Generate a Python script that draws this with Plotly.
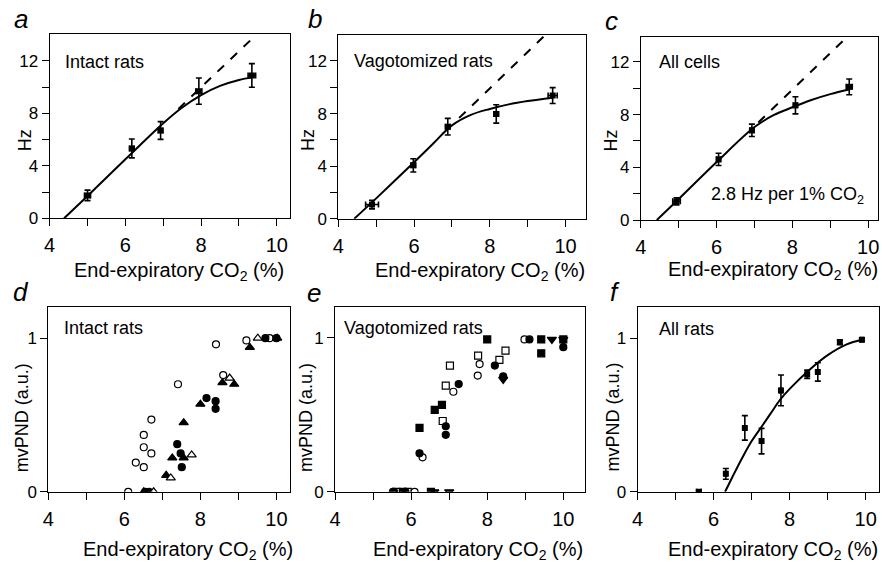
import plotly.graph_objects as go

W, H = 882, 562
FONT = "Arial, 'Liberation Sans', Helvetica, sans-serif"

# ---------------- data ----------------
# a: intact rats (Hz)
a_x = [5.0, 6.17, 6.93, 7.94, 9.34]
a_y = [1.75, 5.33, 6.7, 9.7, 10.9]
a_yerr = [0.4, 0.72, 0.68, 1.0, 0.9]
a_xerr = [0.08, 0.06, 0.06, 0.08, 0.1]
a_fit_x = [4.38, 5.0, 6.0, 7.0, 7.5, 8.0, 8.5, 9.0, 9.35]
a_fit_y = [0.0, 1.7, 4.5, 7.25, 8.45, 9.4, 10.1, 10.55, 10.75]
a_lin_x = [7.4, 9.31]
a_lin_y = [8.35, 13.6]

# b: vagotomized rats (Hz)
b_x = [4.89, 5.98, 6.89, 8.17, 9.66]
b_y = [1.08, 4.06, 7.0, 7.97, 9.37]
b_yerr = [0.33, 0.5, 0.63, 0.7, 0.6]
b_xerr = [0.17, 0.06, 0.06, 0.06, 0.12]
b_fit_x = [4.42, 5.0, 6.0, 6.5, 7.0, 7.5, 8.0, 8.5, 9.0, 9.66]
b_fit_y = [0.0, 1.55, 4.3, 5.7, 7.1, 7.9, 8.35, 8.7, 8.95, 9.2]
b_lin_x = [7.19, 9.42]
b_lin_y = [7.67, 13.85]

# c: all cells (Hz)
c_x = [4.94, 6.05, 6.93, 8.08, 9.5]
c_y = [1.42, 4.6, 6.8, 8.7, 10.1]
c_yerr = [0.27, 0.47, 0.47, 0.65, 0.6]
c_xerr = [0.1, 0.05, 0.05, 0.05, 0.08]
c_fit_x = [4.42, 5.0, 6.0, 7.0, 7.5, 8.0, 8.5, 9.0, 9.5]
c_fit_y = [0.0, 1.6, 4.4, 7.05, 7.95, 8.55, 9.1, 9.55, 9.9]
c_lin_x = [7.1, 9.44]
c_lin_y = [7.4, 13.88]

# d: intact rats, individual animals (mvPND a.u.)
d_oc_x = [6.1, 6.3, 6.51, 6.51, 6.51, 6.71, 6.71, 7.41, 8.41, 8.6, 9.21, 9.82]
d_oc_y = [0.0, 0.19, 0.16, 0.29, 0.37, 0.25, 0.47, 0.7, 0.96, 0.76, 0.985, 1.0]
d_fc_x = [6.55, 6.65, 7.39, 7.48, 7.51, 8.16, 8.4, 8.4, 9.71, 10.0]
d_fc_y = [0.0, 0.0, 0.31, 0.25, 0.16, 0.61, 0.59, 0.54, 1.0, 1.0]
d_ft_x = [6.51, 7.1, 7.26, 7.56, 7.56, 8.0, 8.58, 8.89, 9.3, 10.02]
d_ft_y = [0.0, 0.107, 0.22, 0.22, 0.45, 0.57, 0.71, 0.7, 0.94, 1.0]
d_ot_x = [6.77, 7.22, 7.77, 8.77, 9.51]
d_ot_y = [0.0, 0.09, 0.24, 0.74, 1.0]

# e: vagotomized rats, individual animals (mvPND a.u.)
e_fs_x = [5.78, 6.52, 6.22, 6.62, 6.81, 8.0, 9.42, 9.42, 10.0]
e_fs_y = [0.0, 0.0, 0.416, 0.533, 0.565, 0.99, 0.99, 0.9, 0.99]
e_os_x = [5.61, 5.91, 6.83, 6.91, 7.02, 7.76, 8.32, 8.48]
e_os_y = [0.0, 0.0, 0.46, 0.69, 0.82, 0.885, 0.857, 0.917]
e_oc_x = [5.52, 6.09, 6.3, 7.11, 7.75, 7.8, 8.98]
e_oc_y = [0.0, 0.0, 0.224, 0.65, 0.755, 0.83, 0.99]
e_fc_x = [5.55, 5.85, 6.22, 6.91, 6.91, 7.25, 8.2, 8.42, 9.11, 10.0]
e_fc_y = [0.0, 0.0, 0.25, 0.426, 0.37, 0.7, 0.82, 0.75, 0.99, 0.94]
e_dt_x = [6.61, 7.0, 8.42, 9.7, 10.0]
e_dt_y = [0.0, 0.0, 0.73, 0.99, 0.99]

# f: all rats (mvPND a.u.)
f_x = [5.61, 6.32, 6.82, 7.26, 7.77, 8.46, 8.74, 9.32, 9.9]
f_y = [0.0, 0.117, 0.416, 0.33, 0.66, 0.765, 0.78, 0.974, 0.99]
f_yerr = [0.0, 0.035, 0.08, 0.083, 0.1, 0.027, 0.06, 0.015, 0.01]
f_xerr = [0.06, 0.03, 0.03, 0.03, 0.03, 0.03, 0.03, 0.03, 0.03]
f_fit_x = [6.3, 6.5, 6.75, 7.0, 7.25, 7.5, 7.75, 8.0, 8.5, 9.0, 9.5, 9.9]
f_fit_y = [0.0, 0.1, 0.22, 0.33, 0.42, 0.51, 0.6, 0.67, 0.79, 0.89, 0.96, 0.99]

x_major = [4, 6, 8, 10]
x_minor = [5, 7, 9]
hz_major = [0, 4, 8, 12]
hz_minor = [2, 6, 10]
pnd_major = [0, 1]

XTITLE = "End-expiratory CO<sub>2</sub> (%)"

# ---------------- layout geometry (pixels) ----------------
# name: (left, right, top, bottom, xmax, ymax)
panels = {
    "a": (44, 286, 35, 222.3, 10.34, 14.03),
    "b": (335, 585, 35.7, 222.7, 10.55, 13.97),
    "c": (640, 879, 37.7, 224, 10.26, 13.88),
    "d": (42.7, 286, 313, 500.7, 10.35, 1.2),
    "e": (331.7, 584, 312.7, 500.7, 10.58, 1.2),
    "f": (636.7, 880, 313, 500.7, 10.35, 1.2),
}
order = ["a", "b", "c", "d", "e", "f"]

fig = go.Figure()
axis_ref = {}
for i, name in enumerate(order, start=1):
    axis_ref[name] = ("x" if i == 1 else f"x{i}", "y" if i == 1 else f"y{i}")


def add_err(name, xs, ys, yerr, xerr):
    xa, ya = axis_ref[name]
    fig.add_trace(go.Scatter(
        x=xs, y=ys, mode="markers", xaxis=xa, yaxis=ya, showlegend=False,
        marker=dict(symbol="square", size=6, color="black"),
        error_y=dict(type="data", array=yerr, color="black", thickness=1.6, width=3),
        error_x=dict(type="data", array=xerr, color="black", thickness=1.6, width=3),
    ))


def add_line(name, xs, ys, dash="solid", shape="spline"):
    xa, ya = axis_ref[name]
    fig.add_trace(go.Scatter(
        x=xs, y=ys, mode="lines", xaxis=xa, yaxis=ya, showlegend=False,
        line=dict(color="black", width=2, dash=dash, shape=shape),
    ))


def add_pts(name, xs, ys, symbol, filled, size=7):
    xa, ya = axis_ref[name]
    fig.add_trace(go.Scatter(
        x=xs, y=ys, mode="markers", xaxis=xa, yaxis=ya, showlegend=False,
        marker=dict(symbol=symbol, size=size, color="black" if filled else "white",
                    line=dict(color="black", width=1.2)),
    ))


# a
add_line("a", a_lin_x, a_lin_y, dash="dash", shape="linear")
add_line("a", a_fit_x, a_fit_y)
add_err("a", a_x, a_y, a_yerr, a_xerr)
# b
add_line("b", b_lin_x, b_lin_y, dash="dash", shape="linear")
add_line("b", b_fit_x, b_fit_y)
add_err("b", b_x, b_y, b_yerr, b_xerr)
# c
add_line("c", c_lin_x, c_lin_y, dash="dash", shape="linear")
add_line("c", c_fit_x, c_fit_y)
add_err("c", c_x, c_y, c_yerr, c_xerr)
# d
add_pts("d", d_oc_x, d_oc_y, "circle", False)
add_pts("d", d_fc_x, d_fc_y, "circle", True)
add_pts("d", d_ft_x, d_ft_y, "triangle-up", True, 8)
add_pts("d", d_ot_x, d_ot_y, "triangle-up", False, 8)
# e
add_pts("e", e_os_x, e_os_y, "square", False)
add_pts("e", e_oc_x, e_oc_y, "circle", False)
add_pts("e", e_fs_x, e_fs_y, "square", True)
add_pts("e", e_fc_x, e_fc_y, "circle", True)
add_pts("e", e_dt_x, e_dt_y, "triangle-down", True, 8)
# f
add_line("f", f_fit_x, f_fit_y)
add_err("f", f_x, f_y, f_yerr, f_xerr)

layout = dict(
    width=W, height=H, margin=dict(l=0, r=0, t=0, b=0),
    paper_bgcolor="white", plot_bgcolor="white",
    font=dict(family=FONT, color="black", size=18),
)

for i, name in enumerate(order, start=1):
    l, r, t, b, xmax, ymax = panels[name]
    xk = "xaxis" if i == 1 else f"xaxis{i}"
    yk = "yaxis" if i == 1 else f"yaxis{i}"
    is_hz = name in ("a", "b", "c")
    common = dict(showgrid=False, zeroline=False, showline=True, linecolor="black",
                  linewidth=1, mirror=True, ticks="outside", ticklen=7, tickwidth=1,
                  tickcolor="black")
    layout[xk] = dict(
        domain=[l / W, r / W], range=[4, xmax], anchor=axis_ref[name][1],
        tickvals=x_major, tickfont=dict(size=20, family=FONT), ticklabelstandoff=2,
        minor=dict(tickvals=x_minor, ticks="outside", ticklen=7, tickwidth=1,
                   tickcolor="black", showgrid=False),
        **common,
    )
    ydict = dict(
        domain=[1 - b / H, 1 - t / H], range=[0, ymax], anchor=axis_ref[name][0],
        tickvals=hz_major if is_hz else pnd_major,
        tickfont=dict(size=17, family=FONT),
        **common,
    )
    if is_hz:
        ydict["minor"] = dict(tickvals=hz_minor, ticks="outside", ticklen=7, tickwidth=1,
                              tickcolor="black", showgrid=False)
    layout[yk] = ydict

fig.update_layout(**layout)


def ann(text, px, py, size=18, xanchor="center", yanchor="middle", angle=0, italic=False):
    fig.add_annotation(
        text=text, x=px / W, y=1 - py / H, xref="paper", yref="paper",
        xanchor=xanchor, yanchor=yanchor, showarrow=False, textangle=angle,
        font=dict(size=size, family=FONT, color="black",
                  style="italic" if italic else "normal"),
    )


# panel letters
for letter, px, py in [("a", 15.5, 19), ("b", 311, 19), ("c", 610, 21),
                       ("d", 15, 297), ("e", 310, 298), ("f", 614, 297)]:
    ann(letter, px, py, size=26, italic=True)

# x titles
for px, py in [(174, 276), (478, 276), (773, 275), (183, 560), (476, 560), (773, 560)]:
    ann(XTITLE, px, py, size=20)

# y titles
for px, py in [(20, 143), (305, 143), (610, 143)]:
    ann("Hz", px, py, size=18, angle=-90)
for px, py in [(17, 425), (303, 425), (612, 425)]:
    ann("mvPND (a.u.)", px, py, size=18, angle=-90)

# inset labels
ann("Intact rats", 57, 63, xanchor="left")
ann("Vagotomized rats", 349, 62, xanchor="left")
ann("All cells", 656, 63, xanchor="left")
ann("2.8 Hz per 1% CO<sub>2</sub>", 709, 199, xanchor="left")
ann("Intact rats", 56, 334, xanchor="left")
ann("Vagotomized rats", 339, 334, xanchor="left")
ann("All rats", 656, 335, xanchor="left")

fig.write_html("out.html")
